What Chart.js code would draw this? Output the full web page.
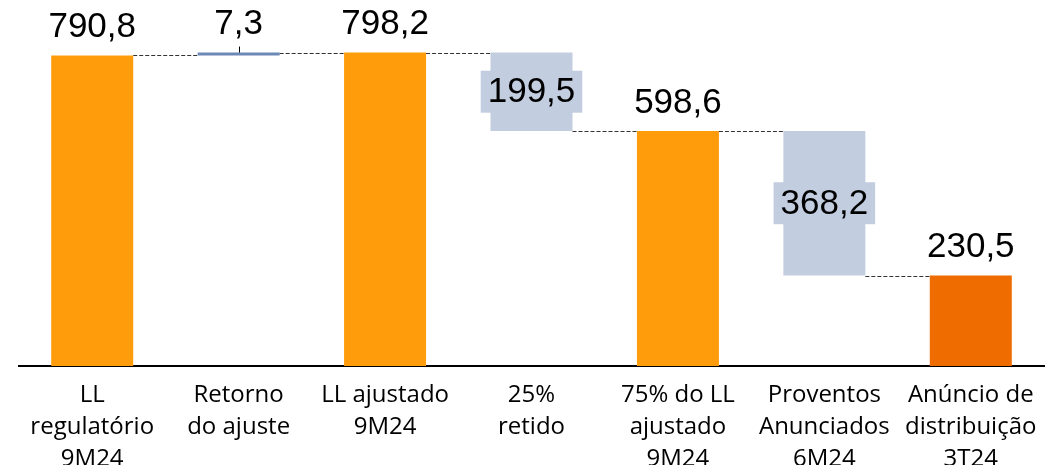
<!DOCTYPE html>
<html>
<head>
<meta charset="utf-8">
<script src="https://cdn.jsdelivr.net/npm/chart.js@4"></script>
<style>
  html, body { margin: 0; padding: 0; background: #fff; }
  #wrap { width: 1063px; height: 465px; }
</style>
</head>
<body>
<div id="wrap"><canvas id="wfChart" width="1063" height="465"></canvas></div>
<script>
// dados do gráfico
const categories = [
  ["LL", "regulatório", "9M24"],
  ["Retorno", "do ajuste"],
  ["LL ajustado", "9M24"],
  ["25%", "retido"],
  ["75% do LL", "ajustado", "9M24"],
  ["Proventos", "Anunciados", "6M24"],
  ["Anúncio de", "distribuição", "3T24"],
];
const values = [790.8, 7.3, 798.2, -199.5, 598.6, -368.2, 230.5];
const isTotal = [true, false, true, false, true, false, true];

const barColors = ["#FF9C0B", "#6D89B5", "#FF9C0B", "#C3CDE0", "#FF9C0B", "#C3CDE0", "#EE6C00"];

// monta as barras flutuantes e os níveis acumulados
const ranges = [];
const levels = [];
let running = 0;
values.forEach((v, i) => {
  if (isTotal[i]) {
    ranges.push([0, v]);
    running = v;
  } else {
    ranges.push([running, running + v]);
    running = running + v;
  }
  levels.push(running);
});

const fmt = (v) => Math.abs(v).toFixed(1).replace(".", ",");

const waterfallPlugin = {
  id: "waterfall",
  afterDatasetsDraw(chart) {
    const ctx = chart.ctx;
    const meta = chart.getDatasetMeta(0);
    const yScale = chart.scales.y;

    // linhas tracejadas de ligação
    ctx.save();
    ctx.strokeStyle = "#333";
    ctx.lineWidth = 1;
    ctx.setLineDash([4, 2]);
    for (let i = 0; i < meta.data.length - 1; i++) {
      const a = meta.data[i];
      const b = meta.data[i + 1];
      const yy = Math.round(yScale.getPixelForValue(levels[i])) + 0.5;
      ctx.beginPath();
      ctx.moveTo(a.x + a.width / 2, yy);
      ctx.lineTo(b.x - b.width / 2, yy);
      ctx.stroke();
    }
    ctx.restore();

    // rótulos de valores
    ctx.save();
    ctx.font = "35px 'Liberation Sans', Arial, sans-serif";
    ctx.textAlign = "center";
    ctx.textBaseline = "middle";
    meta.data.forEach((bar, i) => {
      const top = Math.min(bar.y, bar.base);
      const bottom = Math.max(bar.y, bar.base);
      const text = fmt(values[i]);
      if (isTotal[i] || bottom - top < 30) {
        if (!isTotal[i]) {
          ctx.strokeStyle = "#000";
          ctx.lineWidth = 1;
          ctx.beginPath();
          ctx.moveTo(Math.round(bar.x) + 0.5, top);
          ctx.lineTo(Math.round(bar.x) + 0.5, top - 6);
          ctx.stroke();
        }
        ctx.fillStyle = "#000";
        ctx.fillText(text, bar.x, top - 28);
      } else {
        const mid = (top + bottom) / 2;
        const w = ctx.measureText(text).width + 14;
        ctx.fillStyle = barColors[i];
        ctx.fillRect(bar.x - w / 2, mid - 21, w, 42);
        ctx.fillStyle = "#000";
        ctx.fillText(text, bar.x, mid + 1);
      }
    });
    ctx.restore();
  },
};

new Chart(document.getElementById("wfChart").getContext("2d"), {
  type: "bar",
  data: {
    labels: categories,
    datasets: [
      {
        data: ranges,
        backgroundColor: barColors,
        borderWidth: 0,
        barPercentage: 0.56,
        categoryPercentage: 1,
      },
    ],
  },
  options: {
    responsive: false,
    animation: false,
    layout: {
      padding: { left: 19, right: 19, top: 0, bottom: 0 },
    },
    plugins: {
      legend: { display: false },
      tooltip: { enabled: false },
    },
    scales: {
      x: {
        grid: { display: false },
        border: { display: true, color: "#000", width: 2 },
        ticks: {
          color: "#000",
          padding: 5,
          maxRotation: 0,
          autoSkip: false,
          font: { family: "'Open Sans', sans-serif", size: 24, lineHeight: "32px" },
        },
        afterFit(scale) {
          scale.height = 99;
        },
      },
      y: {
        display: false,
        min: 0,
        max: 932,
      },
    },
  },
  plugins: [waterfallPlugin],
});
</script>
</body>
</html>
